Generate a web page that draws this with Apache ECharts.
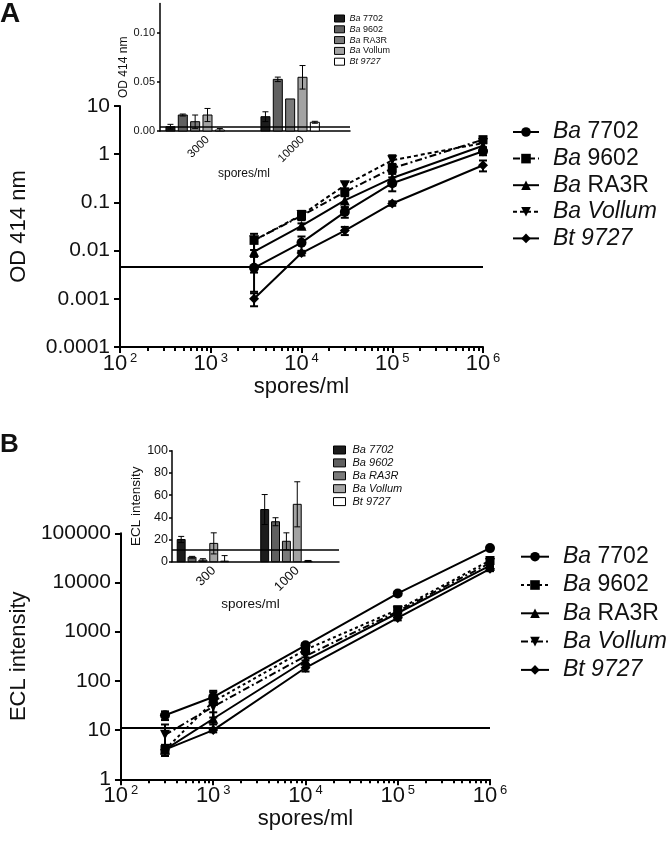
<!DOCTYPE html>
<html><head><meta charset="utf-8">
<script src="https://cdn.jsdelivr.net/npm/echarts@6/dist/echarts.min.js"></script>
<style>html,body{margin:0;padding:0;background:#fff}#c{width:666px;height:842px}</style>
</head><body><div id="c"></div>
<script>
const FONT = 'Liberation Sans, Arial, Helvetica, sans-serif';
const INK = '#111';

// ---------- shared ----------
const strains = ['Ba 7702', 'Ba 9602', 'Ba RA3R', 'Ba Vollum', 'Bt 9727'];
const symbols = ['circle', 'rect', 'triangle', 'triangle', 'diamond'];
const symbolRot = [0, 0, 0, 180, 0];
const dashA = ['solid', [7, 3, 2, 3], 'solid', [4, 3], 'solid'];
const dashB = ['solid', [3, 3], 'solid', [7, 3, 2, 3], 'solid'];
const barColors = ['#1c1c1c', '#606060', '#7a7a7a', '#a3a3a3', '#ffffff'];

// ---------- Panel A : main (OD 414 nm) ----------
const sporesA = [3000, 10000, 30000, 100000, 1000000];
const odA_7702   = [0.0044, 0.0146, 0.063, 0.25, 1.15];
const odA_9602   = [0.0163, 0.0527, 0.164, 0.51, 2.0];
const odA_RA3R   = [0.0095, 0.0327, 0.11, 0.32, 1.5];
const odA_Vollum = [0.0163, 0.0548, 0.226, 0.75, 1.7];
const odA_Bt9727 = [0.001, 0.0089, 0.026, 0.095, 0.59];
const errA_7702   = [0.003, 0.005, 0.015, 0.08, 0.2];
const errA_9602   = [0.001, 0.002, 0.03, 0.12, 0.3];
const errA_RA3R   = [0.006, 0.004, 0.03, 0.1, 0.2];
const errA_Vollum = [0.006, 0.012, 0.04, 0.2, 0.3];
const errA_Bt9727 = [0.0003, 0.001, 0.005, 0.01, 0.15];
const thresholdA = 0.0046;
const yTickLabelsA = ['0.0001', '0.001', '0.01', '0.1', '1', '10'];

// ---------- Panel A : inset ----------
const insetA_cats = ['3000', '10000'];
const insA_7702   = [0.0044, 0.0146];
const insA_9602   = [0.0163, 0.0527];
const insA_RA3R   = [0.0095, 0.0327];
const insA_Vollum = [0.0163, 0.0548];
const insA_Bt9727 = [0.001, 0.0089];
const insAerr_7702   = [0.0024, 0.005];
const insAerr_9602   = [0.001, 0.0023];
const insAerr_RA3R   = [0.0068, 0];
const insAerr_Vollum = [0.0067, 0.012];
const insAerr_Bt9727 = [0.0015, 0.001];
const insetA_ticks = [0, 0.05, 0.10];
const insetA_tickLabels = ['0.00', '0.05', '0.10'];

// ---------- Panel B : main (ECL intensity) ----------
const sporesB = [300, 1000, 10000, 100000, 1000000];
const eclB_7702   = [20, 47, 530, 6000, 50000];
const eclB_9602   = [4, 38, 430, 2800, 28000];
const eclB_RA3R   = [4, 17, 260, 2400, 22000];
const eclB_Vollum = [8, 30, 320, 2600, 25000];
const eclB_Bt9727 = [4, 10, 185, 1900, 19000];
const errB_7702   = [4, 12, 60, 500, 4000];
const errB_9602   = [1, 25, 80, 400, 3000];
const errB_RA3R   = [1, 6, 40, 300, 2000];
const errB_Vollum = [5, 12, 60, 300, 3000];
const errB_Bt9727 = [0.5, 1, 30, 200, 2000];
const thresholdB = 11;
const yTickLabelsB = ['1', '10', '100', '1000', '10000', '100000'];

// ---------- Panel B : inset ----------
const insetB_cats = ['300', '1000'];
const insB_7702   = [20, 47];
const insB_9602   = [4, 36];
const insB_RA3R   = [1.5, 18.4];
const insB_Vollum = [16.5, 51.7];
const insB_Bt9727 = [0.5, 0.6];
const insBerr_7702   = [2.8, 13.5];
const insBerr_9602   = [0.8, 3.6];
const insBerr_RA3R   = [1.2, 7.6];
const insBerr_Vollum = [9.5, 20.3];
const insBerr_Bt9727 = [5, 0.5];

const xExponents = ['2', '3', '4', '5', '6'];

const mainA = [odA_7702, odA_9602, odA_RA3R, odA_Vollum, odA_Bt9727];
const mainAerr = [errA_7702, errA_9602, errA_RA3R, errA_Vollum, errA_Bt9727];
const mainB = [eclB_7702, eclB_9602, eclB_RA3R, eclB_Vollum, eclB_Bt9727];
const mainBerr = [errB_7702, errB_9602, errB_RA3R, errB_Vollum, errB_Bt9727];
const insA = [insA_7702, insA_9602, insA_RA3R, insA_Vollum, insA_Bt9727];
const insAerr = [insAerr_7702, insAerr_9602, insAerr_RA3R, insAerr_Vollum, insAerr_Bt9727];
const insB = [insB_7702, insB_9602, insB_RA3R, insB_Vollum, insB_Bt9727];
const insBerr = [insBerr_7702, insBerr_9602, insBerr_RA3R, insBerr_Vollum, insBerr_Bt9727];

// ---------- helpers ----------
function thresholdLine(value, width) {
  return { symbol: 'none', silent: true, precision: 6, label: { show: false },
    lineStyle: { color: '#000', width: width, type: 'solid' }, data: [{ yAxis: value }] };
}
function lineSeries(name, i, xs, ys, xi, yi, dash, thr) {
  const s = {
    type: 'line', name: name, xAxisIndex: xi, yAxisIndex: yi, z: 4,
    data: xs.map((x, k) => [x, ys[k]]),
    symbol: symbols[i], symbolSize: i === 1 ? 9 : 10, symbolRotate: symbolRot[i],
    lineStyle: { color: '#000', width: 2, type: dash },
    itemStyle: { color: '#000' },
    emphasis: { disabled: true }
  };
  if (thr !== undefined) s.markLine = thresholdLine(thr, 2);
  return s;
}
function errSeries(xs, ys, es, xi, yi) {
  return {
    type: 'custom', xAxisIndex: xi, yAxisIndex: yi, silent: true, z: 3,
    data: xs.map((x, k) => [x, ys[k], es[k]]),
    renderItem: function (params, api) {
      const x = api.value(0), v = api.value(1), e = api.value(2);
      const lo = Math.max(v - e, v * 0.3);
      const pt = api.coord([x, v + e]), pl = api.coord([x, lo]);
      const st = { stroke: '#000', lineWidth: 2 };
      return { type: 'group', children: [
        { type: 'line', shape: { x1: pt[0], y1: pt[1], x2: pl[0], y2: pl[1] }, style: st },
        { type: 'line', shape: { x1: pt[0] - 4, y1: pt[1], x2: pt[0] + 4, y2: pt[1] }, style: st },
        { type: 'line', shape: { x1: pl[0] - 4, y1: pl[1], x2: pl[0] + 4, y2: pl[1] }, style: st }
      ] };
    }
  };
}
function barSeries(name, i, vals, errs, xi, yi, thr) {
  const s = {
    type: 'custom', name: name, xAxisIndex: xi, yAxisIndex: yi, z: 3,
    itemStyle: { color: barColors[i], borderColor: '#000', borderWidth: 1 },
    data: vals.map((v, k) => [k, v, errs[k]]),
    renderItem: function (params, api) {
      const c = api.value(0), v = api.value(1), e = api.value(2);
      const band = api.size([1, 0])[0];
      const pitch = band * 0.13, bw = band * 0.095;
      const base = api.coord([c, 0]);
      const cx = base[0] + (i - 3) * pitch;
      const top = api.coord([c, v])[1];
      const children = [{ type: 'rect', shape: { x: cx - bw / 2, y: top, width: bw, height: base[1] - top },
        style: { fill: barColors[i], stroke: '#000', lineWidth: 1 } }];
      if (e > 0) {
        const yt = api.coord([c, v + e])[1], yb = api.coord([c, Math.max(0, v - e)])[1];
        const st = { stroke: '#000', lineWidth: 1 };
        children.push({ type: 'line', shape: { x1: cx, y1: yt, x2: cx, y2: yb }, style: st });
        children.push({ type: 'line', shape: { x1: cx - 3, y1: yt, x2: cx + 3, y2: yt }, style: st });
        if (v - e > 0) children.push({ type: 'line', shape: { x1: cx - 3, y1: yb, x2: cx + 3, y2: yb }, style: st });
      }
      return { type: 'group', children: children };
    }
  };
  if (thr !== undefined) s.markLine = thresholdLine(thr, 1.5);
  return s;
}

function richName(size, lh, allItalic) {
  return {
    i: { fontStyle: 'italic', fontSize: size, fontFamily: FONT, lineHeight: lh, color: INK },
    n: { fontStyle: allItalic ? 'italic' : 'normal', fontSize: size, fontFamily: FONT, lineHeight: lh, color: INK }
  };
}
function fmtName(name) {
  const parts = name.split('|')[0].split(' ');
  const italicRest = parts[0] === 'Bt' || parts[1] === 'Vollum';
  return '{i|' + parts[0] + ' }' + (italicRest ? '{i|' + parts[1] + '}' : '{n|' + parts[1] + '}');
}
function fmtNameInsetA(name) {
  const parts = name.split('|')[0].split(' ');
  return '{i|' + parts[0] + ' }' + (parts[0] === 'Bt' ? '{i|' + parts[1] + '}' : '{n|' + parts[1] + '}');
}

function mainXAxis(grid) {
  return {
    type: 'log', gridIndex: grid, min: 100, max: 1000000, logBase: 10, position: 'bottom',
    name: 'spores/ml', nameLocation: 'middle', nameGap: 27,
    nameTextStyle: { fontSize: 22, fontFamily: FONT, color: INK },
    axisLine: { lineStyle: { color: '#000', width: 2 } },
    axisTick: { length: 6, lineStyle: { color: '#000', width: 2 } },
    minorTick: { show: true, splitNumber: 9, length: 4, lineStyle: { color: '#000', width: 2 } },
    splitLine: { show: false },
    minorSplitLine: { show: false },
    axisLabel: {
      margin: 5,
      formatter: v => '{b|10}{s|' + xExponents[Math.round(Math.log10(v)) - 2] + '}',
      rich: {
        b: { fontSize: 22, fontFamily: FONT, lineHeight: 24, color: INK },
        s: { fontSize: 13, fontFamily: FONT, lineHeight: 12, verticalAlign: 'top', padding: [0, 0, 0, 3], color: INK }
      }
    }
  };
}

const series = [];
strains.forEach((s, i) => {
  series.push(errSeries(sporesA, mainA[i], mainAerr[i], 0, 0));
  series.push(lineSeries(s + '|A', i, sporesA, mainA[i], 0, 0, dashA[i], i === 0 ? thresholdA : undefined));
  series.push(barSeries(s + '|Ai', i, insA[i], insAerr[i], 1, 1, i === 0 ? thresholdA : undefined));
  series.push(errSeries(sporesB, mainB[i], mainBerr[i], 2, 2));
  series.push(lineSeries(s + '|B', i, sporesB, mainB[i], 2, 2, dashB[i], i === 0 ? thresholdB : undefined));
  series.push(barSeries(s + '|Bi', i, insB[i], insBerr[i], 3, 3, i === 0 ? thresholdB : undefined));
});

const option = {
  animation: false,
  backgroundColor: '#fff',
  textStyle: { fontFamily: FONT },
  graphic: [
    { type: 'text', left: 0, top: 0, style: { text: 'A', fontSize: 28, fontWeight: 'bold', fontFamily: FONT, fill: INK } },
    { type: 'text', left: 0, top: 432, style: { text: 'B', fontSize: 26, fontWeight: 'bold', fontFamily: FONT, fill: INK } }
  ],
  grid: [
    { left: 120, top: 106, width: 363, height: 241 },
    { left: 160, top: 3.6, width: 190, height: 127.4 },
    { left: 120, top: 533.3, width: 370, height: 246 },
    { left: 172, top: 450.7, width: 167, height: 111 }
  ],
  xAxis: [
    mainXAxis(0),
    {
      type: 'category', gridIndex: 1, data: insetA_cats, position: 'bottom',
      name: 'spores/ml', nameLocation: 'middle', nameGap: 36,
      nameTextStyle: { fontSize: 12, fontFamily: FONT, color: INK, padding: [0, 22, 0, 0] },
      axisLine: { lineStyle: { color: '#000', width: 1.5 } },
      axisTick: { alignWithLabel: true, length: 3, lineStyle: { color: '#000', width: 1.5 } },
      axisLabel: { rotate: 45, margin: 7, fontSize: 11.5, fontFamily: FONT, color: INK }
    },
    mainXAxis(2),
    {
      type: 'category', gridIndex: 3, data: insetB_cats, position: 'bottom',
      name: 'spores/ml', nameLocation: 'middle', nameGap: 36,
      nameTextStyle: { fontSize: 13.5, fontFamily: FONT, color: INK, padding: [0, 10, 0, 0] },
      axisLine: { lineStyle: { color: '#000', width: 1.5 } },
      axisTick: { alignWithLabel: true, length: 3, lineStyle: { color: '#000', width: 1.5 } },
      axisLabel: { rotate: 45, margin: 7, fontSize: 13, fontFamily: FONT, color: INK }
    }
  ],
  yAxis: [
    {
      type: 'log', gridIndex: 0, min: 0.0001, max: 10, logBase: 10,
      name: 'OD 414 nm', nameLocation: 'middle', nameGap: 90,
      nameTextStyle: { fontSize: 22, fontFamily: FONT, color: INK },
      axisLine: { lineStyle: { color: '#000', width: 2 } },
      axisTick: { length: 6, lineStyle: { color: '#000', width: 2 } },
      splitLine: { show: false },
      axisLabel: { fontSize: 21, fontFamily: FONT, color: INK, margin: 10,
        formatter: v => yTickLabelsA[Math.round(Math.log10(v)) + 4] }
    },
    {
      type: 'value', gridIndex: 1, min: 0, max: 0.13,
      name: 'OD 414 nm', nameLocation: 'middle', nameGap: 28,
      nameTextStyle: { fontSize: 12, fontFamily: FONT, color: INK },
      axisLine: { show: true, lineStyle: { color: '#000', width: 1.5 } },
      axisTick: { show: true, length: 3, customValues: insetA_ticks, lineStyle: { color: '#000', width: 1.5 } },
      splitLine: { show: false },
      axisLabel: { fontSize: 11, fontFamily: FONT, color: INK, margin: 5, customValues: insetA_ticks,
        formatter: v => insetA_tickLabels[insetA_ticks.findIndex(t => Math.abs(t - v) < 1e-9)] }
    },
    {
      type: 'log', gridIndex: 2, min: 1, max: 100000, logBase: 10,
      name: 'ECL intensity', nameLocation: 'middle', nameGap: 90,
      nameTextStyle: { fontSize: 22, fontFamily: FONT, color: INK },
      axisLine: { lineStyle: { color: '#000', width: 2 } },
      axisTick: { length: 6, lineStyle: { color: '#000', width: 2 } },
      splitLine: { show: false },
      axisLabel: { fontSize: 21, fontFamily: FONT, color: INK, margin: 10,
        formatter: v => yTickLabelsB[Math.round(Math.log10(v))] }
    },
    {
      type: 'value', gridIndex: 3, min: 0, max: 100, interval: 20,
      name: 'ECL intensity', nameLocation: 'middle', nameGap: 28,
      nameTextStyle: { fontSize: 13.5, fontFamily: FONT, color: INK },
      axisLine: { show: true, lineStyle: { color: '#000', width: 1.5 } },
      axisTick: { show: true, length: 3, lineStyle: { color: '#000', width: 1.5 } },
      splitLine: { show: false },
      axisLabel: { fontSize: 12.5, fontFamily: FONT, color: INK, margin: 4 }
    }
  ],
  legend: [
    {
      left: 507, top: 114, orient: 'vertical', selectedMode: false,
      itemWidth: 26, itemHeight: 12, itemGap: 0.6,
      data: strains.map(s => s + '|A'), formatter: fmtName,
      textStyle: { fontSize: 23, fontFamily: FONT, color: INK, lineHeight: 26, padding: [0, 0, 0, 9], rich: richName(23, 26, false) }
    },
    {
      left: 515, top: 537.7, orient: 'vertical', selectedMode: false,
      itemWidth: 28, itemHeight: 12, itemGap: 0.3,
      data: strains.map(s => s + '|B'), formatter: fmtName,
      textStyle: { fontSize: 23, fontFamily: FONT, color: INK, lineHeight: 28, padding: [0, 0, 0, 9], rich: richName(23, 28, false) }
    },
    {
      left: 329, top: 8.5, orient: 'vertical', selectedMode: false,
      itemWidth: 10, itemHeight: 7, itemGap: 0.8, icon: 'rect',
      data: strains.map((s, i) => ({ name: s + '|Ai', icon: 'rect', itemStyle: { color: barColors[i], borderColor: '#000', borderWidth: 1 } })),
      formatter: fmtNameInsetA,
      textStyle: { fontSize: 9, fontFamily: FONT, color: INK, lineHeight: 10, rich: richName(9, 10, false) }
    },
    {
      left: 328, top: 439, orient: 'vertical', selectedMode: false,
      itemWidth: 12, itemHeight: 8, itemGap: 0.9, icon: 'rect',
      data: strains.map((s, i) => ({ name: s + '|Bi', icon: 'rect', itemStyle: { color: barColors[i], borderColor: '#000', borderWidth: 1 } })),
      formatter: fmtName,
      textStyle: { fontSize: 11, fontFamily: FONT, color: INK, lineHeight: 12, padding: [0, 0, 0, 2], rich: richName(11, 12, true) }
    }
  ],
  series: series
};

const chart = echarts.init(document.getElementById('c'), null, { renderer: 'canvas' });
chart.setOption(option);
</script>
</body></html>
